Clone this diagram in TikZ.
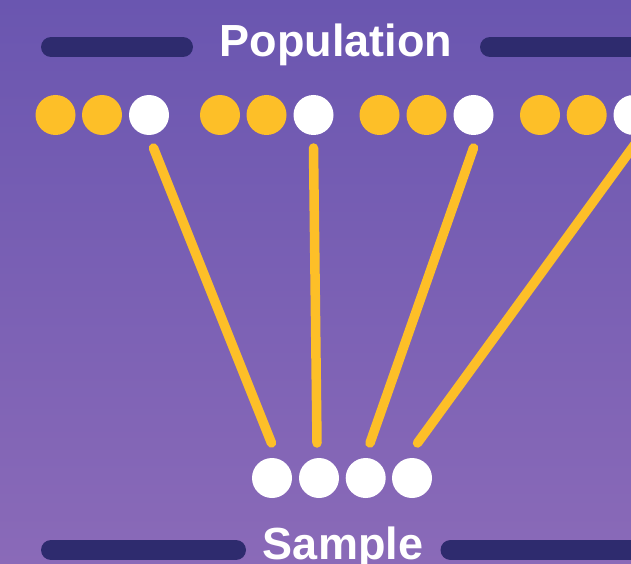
\documentclass[tikz,border=0pt]{standalone}
\usepackage{fontspec}
\setmainfont{Liberation Sans}
\definecolor{bgtop}{HTML}{6A56B0}
\definecolor{bgbot}{HTML}{8A6AB8}
\definecolor{barc}{HTML}{2E2B6E}
\definecolor{gold}{HTML}{FDBF28}
\tikzset{
  dot/.style={circle, minimum size=40pt, inner sep=0pt, fill=#1},
  bar/.style={line width=20pt, line cap=round, draw=barc},
  link/.style={line width=9.5pt, line cap=round, draw=gold},
  title/.style={text=white, inner sep=0pt, anchor=base, font=\fontsize{45}{45}\selectfont\bfseries}
}
\begin{document}
\begin{tikzpicture}[x=1pt,y=-1pt]
\useasboundingbox (0,0) rectangle (631,564);
\clip (0,0) rectangle (631,564);
\shade[top color=bgtop, bottom color=bgbot] (0,0) rectangle (631,564);
% top bars and title
\coordinate (tl1) at (51,47); \coordinate (tl2) at (183,47);
\coordinate (tr1) at (490,47); \coordinate (tr2) at (660,47);
\draw[bar] (tl1) -- (tl2);
\draw[bar] (tr1) -- (tr2);
\node[title] (pop) at (336,57) {Population};
% population dots
\node[dot=gold]  (p1)  at (55.5,115) {};
\node[dot=gold]  (p2)  at (102,115) {};
\node[dot=white] (p3)  at (149,115) {};
\node[dot=gold]  (p4)  at (220,115) {};
\node[dot=gold]  (p5)  at (266.5,115) {};
\node[dot=white] (p6)  at (313.5,115) {};
\node[dot=gold]  (p7)  at (379.5,115) {};
\node[dot=gold]  (p8)  at (426.5,115) {};
\node[dot=white] (p9)  at (473.5,115) {};
\node[dot=gold]  (p10) at (540,115) {};
\node[dot=gold]  (p11) at (586.7,115) {};
\node[dot=white] (p12) at (633.5,115) {};
% sample dots
\node[dot=white] (s1) at (272,478) {};
\node[dot=white] (s2) at (319,478) {};
\node[dot=white] (s3) at (365.7,478) {};
\node[dot=white] (s4) at (412,478) {};
% links
\coordinate (a1) at (153.5,148); \coordinate (b1) at (271.5,443);
\coordinate (a2) at (313.5,148); \coordinate (b2) at (317,443);
\coordinate (a3) at (473.5,148); \coordinate (b3) at (370,443);
\coordinate (a4) at (638,140);   \coordinate (b4) at (417.5,443);
\draw[link] (a1) -- (b1);
\draw[link] (a2) -- (b2);
\draw[link] (a3) -- (b3);
\draw[link] (a4) -- (b4);
% bottom bars and title
\coordinate (bl1) at (51,550); \coordinate (bl2) at (236,550);
\coordinate (br1) at (450.5,550); \coordinate (br2) at (660,550);
\draw[bar] (bl1) -- (bl2);
\draw[bar] (br1) -- (br2);
\node[title] (samp) at (343,559.5) {Sample};
\end{tikzpicture}
\end{document}
